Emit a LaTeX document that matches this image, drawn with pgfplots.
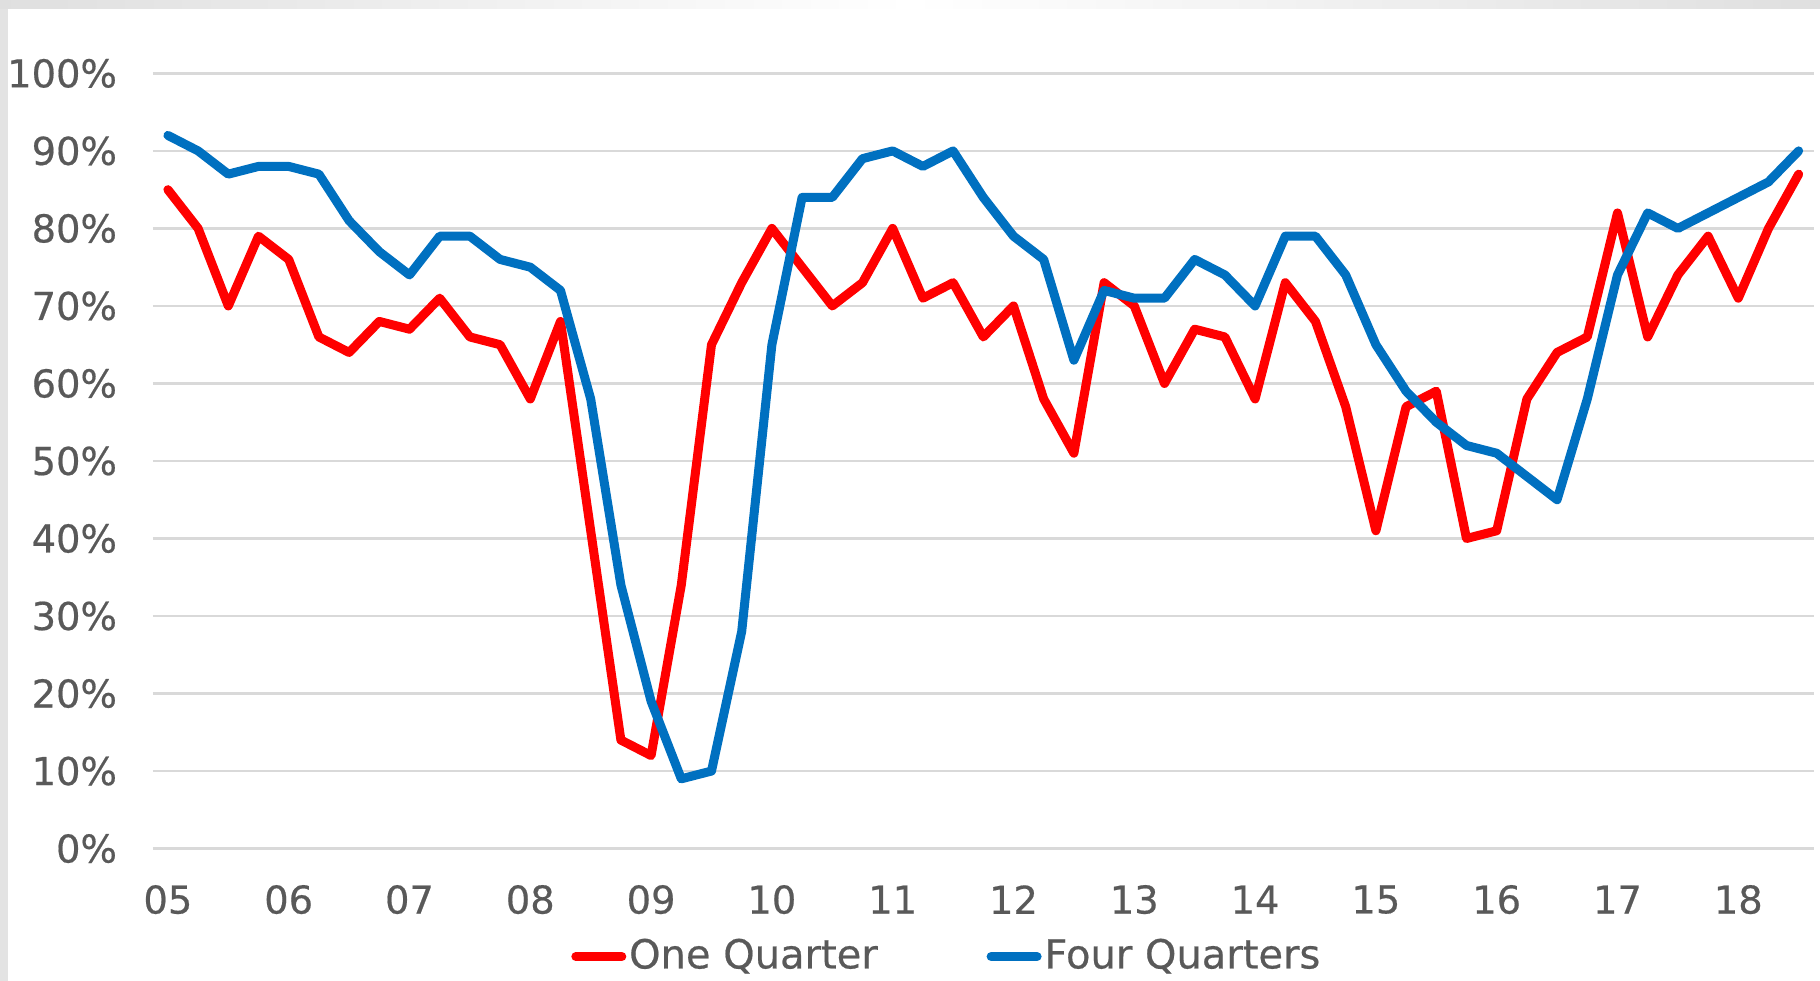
\documentclass[border=0pt]{standalone}
\usepackage{pgfplots}
\pgfplotsset{compat=1.18}
\usepackage{fontspec}
\setmainfont{DejaVu Sans}[BoldFont={DejaVu Sans}, BoldFeatures={FakeBold=0.5}]

\definecolor{qred}{HTML}{FF0000}
\definecolor{qblue}{HTML}{0070C0}
\definecolor{txtgray}{HTML}{595959}
\definecolor{gridgray}{HTML}{D9D9D9}

% quarter index (0 = 2005Q1), one-quarter and four-quarter ratios in %
\pgfplotstableread{
q one four
0 85 92
1 80 90
2 70 87
3 79 88
4 76 88
5 66 87
6 64 81
7 68 77
8 67 74
9 71 79
10 66 79
11 65 76
12 58 75
13 68 72
14 41 58
15 14 34
16 12 19
17 34 9
18 65 10
19 73 28
20 80 65
21 75 84
22 70 84
23 73 89
24 80 90
25 71 88
26 73 90
27 66 84
28 70 79
29 58 76
30 51 63
31 73 72
32 70 71
33 60 71
34 67 76
35 66 74
36 58 70
37 73 79
38 68 79
39 57 74
40 41 65
41 57 59
42 59 55
43 40 52
44 41 51
45 58 48
46 64 45
47 66 58
48 82 74
49 66 82
50 74 80
51 79 82
52 71 84
53 80 86
54 87 90
}\ratios

\begin{document}
\begin{tikzpicture}[font=\fontsize{9.6}{11.5}\selectfont\bfseries]
\useasboundingbox (-38.2pt,-33.1pt) rectangle (416.8pt,212.15pt);
% light frame of the original screenshot
\fill[gray!22] (-38.2pt,-33.1pt) rectangle (-36.2pt,212.15pt);
\shade[left color=gray!25, right color=gray!25, middle color=white] (-38.2pt,209.9pt) rectangle (416.8pt,212.15pt);
\begin{axis}[
  scale only axis,
  width=415.25pt, height=193.8pt,
  xmin=-0.5, xmax=54.5,
  ymin=0, ymax=100,
  xtick={0,4,...,52},
  xticklabels={05,06,07,08,09,10,11,12,13,14,15,16,17,18},
  ytick={0,10,...,100},
  yticklabel={\pgfmathprintnumber{\tick}\%},
  /pgf/number format/assume math mode=true,
  axis line style={draw=none},
  major tick length=0pt,
  ymajorgrids,
  grid style={gridgray, line width=0.6pt},
  tick label style={text=txtgray, inner sep=0pt},
  yticklabel style={anchor=east, xshift=-8.75pt},
  xticklabel style={anchor=center, yshift=-12.75pt},
  clip=false,
  legend columns=2,
  legend style={at={(axis description cs:0.2515,-0.1393)}, anchor=west,
    draw=none, fill=none, inner sep=0pt, text=txtgray,
    font=\fontsize{10}{12}\selectfont\bfseries,
    nodes={inner sep=0.7pt},
    /tikz/every even column/.append style={column sep=26.5pt}},
  legend image code/.code={\draw[#1] (0pt,0pt) -- (11.5pt,0pt);},
]
\addplot[qred, line width=2.25pt, line cap=round, line join=round] table[x=q, y=one] {\ratios};
\addlegendentry{One Quarter}
\addplot[qblue, line width=2.25pt, line cap=round, line join=round] table[x=q, y=four] {\ratios};
\addlegendentry{Four Quarters}
\end{axis}
\end{tikzpicture}
\end{document}
